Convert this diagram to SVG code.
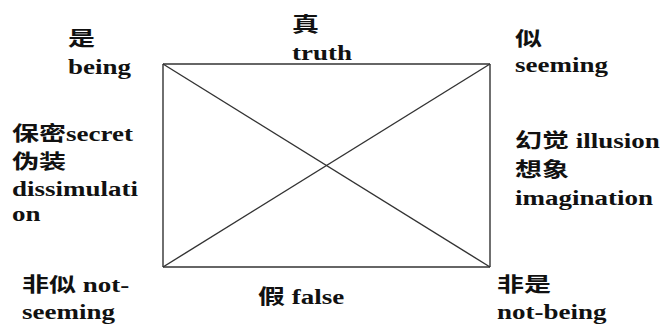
<svg xmlns="http://www.w3.org/2000/svg" width="664" height="324" viewBox="0 0 664 324">
<style>
  text { font-family: 'Liberation Serif', 'Noto Sans CJK SC', serif; font-weight: bold; font-size: 20px; fill: #111; }
  .edge { stroke: #333; stroke-width: 1.4; fill: none; }
</style>
<rect width="664" height="324" fill="#fff"/>
<g id="connectors">
  <line class="edge" x1="163" y1="64" x2="490" y2="64"/>
  <line class="edge" x1="163" y1="267" x2="490" y2="267"/>
  <line class="edge" x1="163" y1="64" x2="163" y2="267"/>
  <line class="edge" x1="490" y1="64" x2="490" y2="267"/>
  <line class="edge" x1="163" y1="64" x2="490" y2="267"/>
  <line class="edge" x1="490" y1="64" x2="163" y2="267"/>
</g>
<g id="being">
  <text transform="translate(68 46) scale(1.35 1)">是</text>
  <text transform="translate(68 74) scale(1.35 1)">being</text>
</g>
<g id="truth">
  <text transform="translate(292 32) scale(1.35 1)">真</text>
  <text transform="translate(292 60) scale(1.35 1)">truth</text>
</g>
<g id="seeming">
  <text transform="translate(515 46) scale(1.35 1)">似</text>
  <text transform="translate(515 72) scale(1.35 1)">seeming</text>
</g>
<g id="secret">
  <text transform="translate(12 141) scale(1.35 1)">保密secret</text>
  <text transform="translate(12 169) scale(1.35 1)">伪装</text>
  <text transform="translate(12 196) scale(1.35 1)">dissimulati</text>
  <text transform="translate(12 221) scale(1.35 1)">on</text>
</g>
<g id="illusion">
  <text transform="translate(515 148) scale(1.35 1)">幻觉 illusion</text>
  <text transform="translate(515 177) scale(1.35 1)">想象</text>
  <text transform="translate(515 205) scale(1.35 1)">imagination</text>
</g>
<g id="not-seeming">
  <text transform="translate(22 292) scale(1.35 1)">非似 not-</text>
  <text transform="translate(22 319) scale(1.35 1)">seeming</text>
</g>
<g id="false">
  <text transform="translate(258 304) scale(1.35 1)">假 false</text>
</g>
<g id="not-being">
  <text transform="translate(497 292) scale(1.35 1)">非是</text>
  <text transform="translate(497 319) scale(1.35 1)">not-being</text>
</g>
</svg>
